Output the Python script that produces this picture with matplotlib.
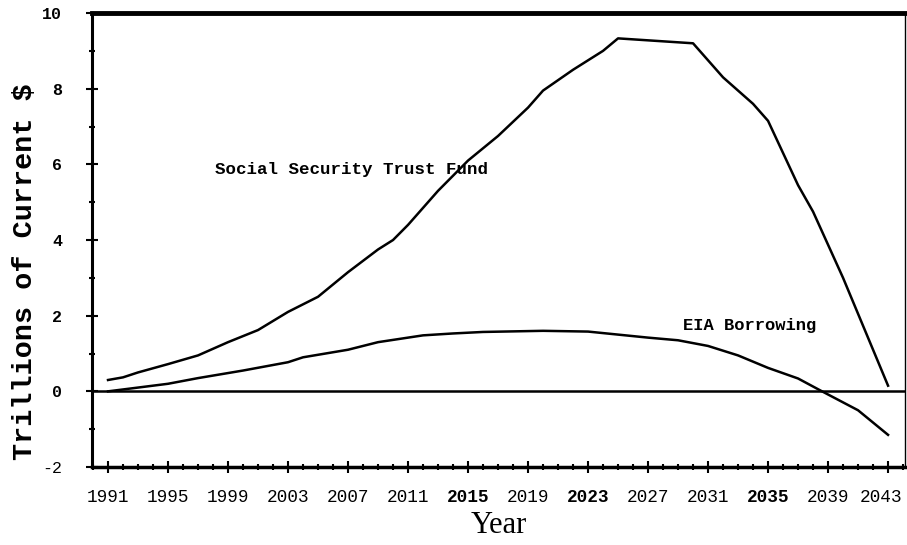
import numpy as np
import matplotlib
matplotlib.use("Agg")
import matplotlib.pyplot as plt
from matplotlib.ticker import MultipleLocator, FixedLocator
from matplotlib.transforms import ScaledTranslation

# dades llegides del gràfic (bilions de $ corrents)
anys_ss = [1991, 1992, 1993, 1995, 1997, 1999, 2001, 2003, 2005, 2007, 2009,
           2010, 2011, 2013, 2015, 2017, 2019, 2020, 2022, 2024, 2025, 2030,
           2032, 2034, 2035, 2037, 2038, 2040, 2043]
fons_ss = [0.30, 0.37, 0.50, 0.72, 0.95, 1.30, 1.62, 2.10, 2.50, 3.15, 3.75,
           4.00, 4.40, 5.30, 6.10, 6.75, 7.50, 7.95, 8.50, 9.00, 9.33, 9.20,
           8.30, 7.60, 7.15, 5.45, 4.75, 3.00, 0.15]

anys_eia = [1991, 1993, 1995, 1997, 2000, 2003, 2004, 2007, 2009, 2012, 2014,
            2016, 2020, 2023, 2025, 2027, 2029, 2031, 2033, 2035, 2037, 2038.6,
            2041, 2043]
deute_eia = [0.00, 0.10, 0.20, 0.35, 0.55, 0.77, 0.90, 1.10, 1.30, 1.48, 1.53,
             1.57, 1.60, 1.58, 1.50, 1.42, 1.35, 1.20, 0.95, 0.62, 0.34, 0.00,
             -0.50, -1.15]

anys_ticks = list(range(1991, 2044, 4))
anys_negreta = [2015, 2023, 2035]
valors_y = [-2, 0, 2, 4, 6, 8, 10]

fig = plt.figure(figsize=(9.07, 5.45), dpi=100)
ax = fig.add_axes([0.1014, 0.1431, 0.8964, 0.833])

ax.plot(anys_ss, fons_ss, color='black', linewidth=1.8)
ax.plot(anys_eia, deute_eia, color='black', linewidth=1.8)
ax.axhline(0, color='black', linewidth=1.8)

ax.text(1998.1, 5.87, "Social Security Trust Fund", family='Liberation Mono',
        fontweight='bold', fontsize=12.6, va='center', ha='left')
ax.text(2029.3, 1.75, "EIA Borrowing", family='Liberation Mono',
        fontweight='bold', fontsize=12.3, va='center', ha='left')

ax.set_xlim(1989.93, 2044.13)
ax.set_ylim(-2, 10)

ax.tick_params(axis='both', which='major', direction='inout', length=9, width=1.5, color='black')
ax.tick_params(axis='both', which='minor', direction='inout', length=5, width=1.5, color='black')
ax.tick_params(axis='x', which='major', pad=11)
ax.tick_params(axis='y', which='major', pad=17)

#ticks eix x
ax.xaxis.set_major_locator(FixedLocator(anys_ticks))
ax.xaxis.set_minor_locator(MultipleLocator(1))
ax.set_xticklabels([str(a) for a in anys_ticks], family='Liberation Mono', fontsize=12.8)
for lab, a in zip(ax.get_xticklabels(), anys_ticks):
    if a in anys_negreta:
        lab.set_fontweight('bold')
#l'últim any queda just al marge: l'empenyem uns píxels a l'esquerra
ultima = ax.get_xticklabels()[-1]
ultima.set_transform(ultima.get_transform() + ScaledTranslation(-5 / 72, 0, fig.dpi_scale_trans))

#ticks eix y
ax.yaxis.set_major_locator(FixedLocator(valors_y))
ax.yaxis.set_minor_locator(MultipleLocator(1))
ax.set_yticklabels([str(v) for v in valors_y], family='Liberation Mono', fontsize=12)
for lab, v in zip(ax.get_yticklabels(), valors_y):
    if v != -2:
        lab.set_fontweight('bold')

ax.spines['top'].set_linewidth(3.5)
ax.spines['left'].set_linewidth(2.2)
ax.spines['bottom'].set_linewidth(2.5)
ax.spines['right'].set_linewidth(1.0)

ax.set_ylabel("Trillions of Current $", family='Liberation Mono', fontweight='bold',
              fontsize=20.5)
ax.yaxis.set_label_coords(-0.066, 0.43)
ax.set_xlabel("Year", family='Liberation Serif', fontsize=22, labelpad=4)

plt.savefig('out.png', dpi=100)
